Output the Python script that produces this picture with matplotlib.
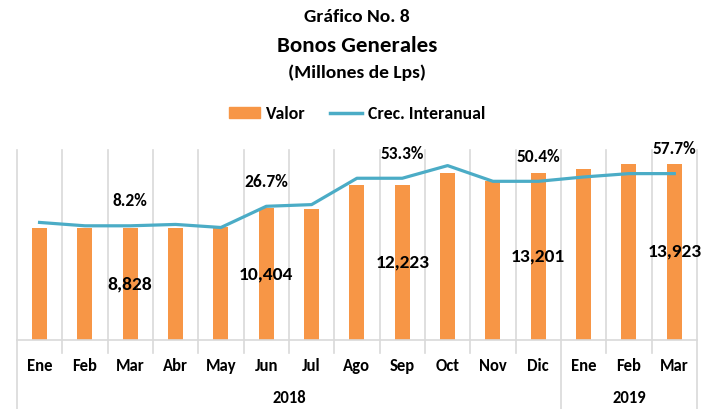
import matplotlib
matplotlib.use("Agg")
import matplotlib.pyplot as plt
from matplotlib.patches import Patch
from matplotlib.lines import Line2D
import matplotlib.transforms as mtransforms

# data
meses = ['Ene', 'Feb', 'Mar', 'Abr', 'May', 'Jun', 'Jul', 'Ago', 'Sep', 'Oct', 'Nov', 'Dic', 'Ene', 'Feb', 'Mar']
valor = [8820, 8815, 8828, 8830, 8930, 10404, 10310, 12220, 12223, 13200, 12540, 13201, 13480, 13900, 13923]
crec = [11.4, 8.2, 8.2, 9.5, 6.6, 26.7, 28.3, 53.3, 53.3, 65.3, 50.4, 50.4, 54.5, 57.7, 57.7]
anios = ['2018', '2019']
meses_por_anio = [12, 3]
etiquetas_idx = [2, 5, 8, 11, 14]

naranja = '#F79646'
azul = '#4BACC6'
gris = '#D9D9D9'

plt.rcParams['font.family'] = ['Carlito', 'Lato', 'DejaVu Sans']
plt.rcParams['font.weight'] = 'bold'

fig = plt.figure(figsize=(7.04, 4.09), dpi=100)
ax = fig.add_axes([0.024, 0.169, 0.966, 0.464])
x = list(range(len(meses)))

ax.bar(x, valor, width=0.33, color=naranja, zorder=2)
ax.set_xlim(-0.5, len(meses) - 0.5)
ax.set_ylim(0, 15000)
ax.set_yticks([])
ax.set_xticks(x)
ax.set_xticklabels(meses, fontsize=12, fontweight='bold')
ax.tick_params(axis='x', length=0, pad=13)
for s in ['top', 'left', 'right']:
    ax.spines[s].set_visible(False)
ax.spines['bottom'].set_color(gris)
ax.spines['bottom'].set_linewidth(1.2)

# vertical separators between categories
trans = mtransforms.blended_transform_factory(ax.transData, ax.transAxes)
frontera = [len(meses) - 0.5]
acum = 0
for n in meses_por_anio:
    frontera.append(acum - 0.5)
    acum += n
for k in range(len(meses) + 1):
    xb = k - 0.5
    bajo = -0.363 if xb in frontera else -0.07
    ax.plot([xb, xb], [1, bajo], transform=trans, color=gris, lw=1.2,
            clip_on=False, zorder=1)

# year labels
acum = 0
for anio, n in zip(anios, meses_por_anio):
    centro = acum + (n - 1) / 2
    ax.text(centro, -0.305, anio, transform=trans, ha='center', va='center',
            fontsize=12, fontweight='bold')
    acum += n

for i in etiquetas_idx:
    ax.text(i, valor[i] / 2, f'{valor[i]:,}', ha='center', va='center',
            fontsize=14, fontweight='bold', zorder=5)

ax2 = ax.twinx()
ax2.plot(x, crec, color=azul, lw=2.3, zorder=3)
ax2.set_ylim(-100, 80)
ax2.axis('off')
for i in etiquetas_idx:
    ax2.annotate(f'{crec[i]:.1f}%', (i, crec[i]), xytext=(0, 17.5),
                 textcoords='offset points', ha='center', va='center',
                 fontsize=12.5, fontweight='bold')

fig.text(0.507, 0.958, 'Gráfico No. 8', ha='center', va='center', fontsize=14, fontweight='bold')
fig.text(0.507, 0.888, 'Bonos Generales', ha='center', va='center', fontsize=16.5, fontweight='bold')
fig.text(0.507, 0.822, '(Millones de Lps)', ha='center', va='center', fontsize=14, fontweight='bold')

handles = [Patch(color=naranja, label='Valor'),
           Line2D([0], [0], color=azul, lw=2.5, label='Crec. Interanual')]
fig.legend(handles=handles, loc='center', bbox_to_anchor=(0.507, 1 - 114 / 409),
           ncol=2, frameon=False, fontsize=12.8, handlelength=1.75, handleheight=0.55,
           columnspacing=1.4, handletextpad=0.35)

fig.savefig('out.png', dpi=100)
